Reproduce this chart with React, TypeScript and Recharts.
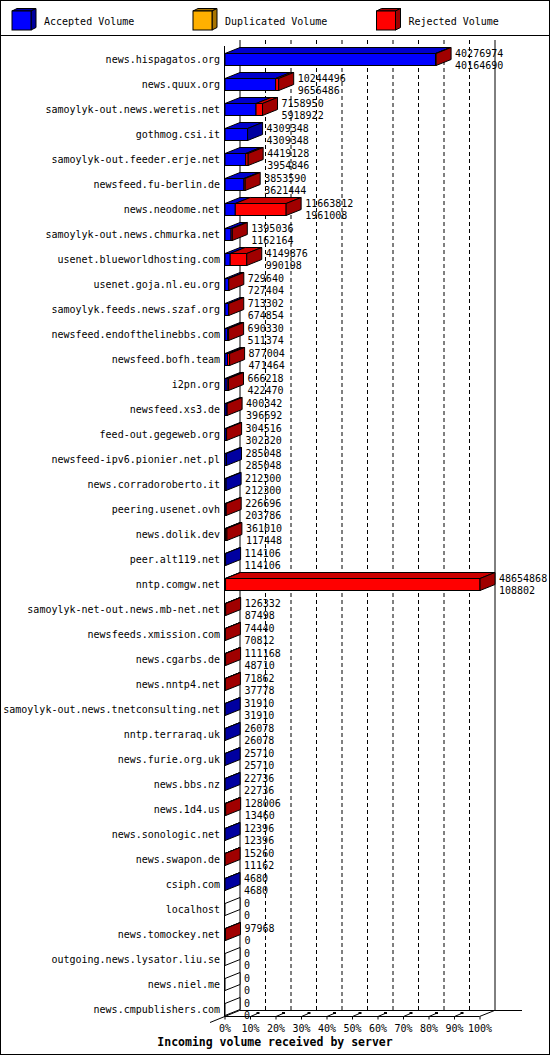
import React from 'react';
import { BarChart, Bar, XAxis, YAxis, CartesianGrid } from 'recharts';

const servers = [
  'news.hispagatos.org',
  'news.quux.org',
  'samoylyk-out.news.weretis.net',
  'gothmog.csi.it',
  'samoylyk-out.feeder.erje.net',
  'newsfeed.fu-berlin.de',
  'news.neodome.net',
  'samoylyk-out.news.chmurka.net',
  'usenet.blueworldhosting.com',
  'usenet.goja.nl.eu.org',
  'samoylyk.feeds.news.szaf.org',
  'newsfeed.endofthelinebbs.com',
  'newsfeed.bofh.team',
  'i2pn.org',
  'newsfeed.xs3.de',
  'feed-out.gegeweb.org',
  'newsfeed-ipv6.pionier.net.pl',
  'news.corradoroberto.it',
  'peering.usenet.ovh',
  'news.dolik.dev',
  'peer.alt119.net',
  'nntp.comgw.net',
  'samoylyk-net-out.news.mb-net.net',
  'newsfeeds.xmission.com',
  'news.cgarbs.de',
  'news.nntp4.net',
  'samoylyk-out.news.tnetconsulting.net',
  'nntp.terraraq.uk',
  'news.furie.org.uk',
  'news.bbs.nz',
  'news.1d4.us',
  'news.sonologic.net',
  'news.swapon.de',
  'csiph.com',
  'localhost',
  'news.tomockey.net',
  'outgoing.news.lysator.liu.se',
  'news.niel.me',
  'news.cmpublishers.com',
];

// first number next to each bar: total offered volume
const totalVolume = [
  40276974, 10244496, 7158950, 4309348, 4419128, 3853590, 11663812, 1395036,
  4149876, 729640, 713302, 690330, 877004, 666218, 400342, 304516, 285048,
  212300, 226696, 361010, 114106, 48654868, 126332, 74440, 111168, 71862,
  31910, 26078, 25710, 22736, 128006, 12396, 15260, 4680, 0, 97968, 0, 0, 0,
];

// second number next to each bar: accepted volume
const acceptedVolume = [
  40164690, 9656486, 5918922, 4309348, 3954846, 3621444, 1961008, 1162164,
  990198, 727404, 674854, 511374, 471464, 422470, 396692, 302320, 285048,
  212300, 203786, 117448, 114106, 108802, 87498, 70812, 48710, 37778,
  31910, 26078, 25710, 22736, 13460, 12396, 11162, 4680, 0, 0, 0, 0, 0,
];

const seriesNames = ['Accepted Volume', 'Duplicated Volume', 'Rejected Volume'];
const percentTicks = [0, 10, 20, 30, 40, 50, 60, 70, 80, 90, 100];
const innerTicks = [10, 20, 30, 40, 50, 60, 70, 80, 90];
const edgeTicks = [0, 100];
const chartTitle = 'Incoming volume received by server';

const W = 550;
const H = 1055;
const PLOT_LEFT = 225;
const PLOT_RIGHT = 480;
const PLOT_TOP = 46.5;
const ROW = 25;
const PLOT_BOTTOM = PLOT_TOP + ROW * servers.length;
const DX = 15;
const DY = 6;
const WALL_TOP = 40;
const FLOOR_BACK = 1010.5;
const FLOOR_FRONT = FLOOR_BACK + DY;
const FONT = '"DejaVu Sans Mono", "Liberation Mono", monospace';

const colors = {
  blue: '#0000ff',
  blueTop: '#0000cc',
  blueSide: '#0000a0',
  yellow: '#ffb000',
  yellowSide: '#a87400',
  red: '#ff0000',
  redTop: '#cc0000',
  redSide: '#a00000',
};

const maxTotal = Math.max(...totalVolume);

const data = servers.map((name, i) => ({
  name,
  total: totalVolume[i],
  acceptedRaw: acceptedVolume[i],
  accepted: (acceptedVolume[i] / maxTotal) * 100,
  rejected: ((totalVolume[i] - acceptedVolume[i]) / maxTotal) * 100,
}));

const pts = (p: number[][]) => p.map(([a, b]) => `${a},${b}`).join(' ');

function Block({ x, y, w, h, front, top, side, showSide }: any) {
  return (
    <g stroke="#000" strokeWidth={1}>
      {w > 0 && <rect x={x} y={y} width={w} height={h} fill={front} />}
      {w > 0 && (
        <polygon points={pts([[x, y], [x + w, y], [x + w + DX, y - DY], [x + DX, y - DY]])} fill={top} />
      )}
      {showSide && (
        <polygon
          points={pts([[x + w, y], [x + w + DX, y - DY], [x + w + DX, y + h - DY], [x + w, y + h]])}
          fill={side}
        />
      )}
    </g>
  );
}

const AcceptedShape = (props: any) => {
  const { x, y, width, height, payload } = props;
  if (payload.total === 0) {
    return (
      <polygon
        points={pts([[x, y], [x + DX, y - DY], [x + DX, y + height - DY], [x, y + height]])}
        fill="#fff"
        stroke="#000"
      />
    );
  }
  if (payload.acceptedRaw === 0) return <g />;
  return (
    <Block
      x={x}
      y={y}
      w={width}
      h={height}
      front={colors.blue}
      top={colors.blueTop}
      side={colors.blueSide}
      showSide={payload.total === payload.acceptedRaw}
    />
  );
};

const RejectedShape = (props: any) => {
  const { x, y, width, height, payload } = props;
  const hasRejected = payload.total > payload.acceptedRaw;
  const tx = x + width + DX + 4;
  const cy = y + height / 2;
  return (
    <g>
      {hasRejected && (
        <Block x={x} y={y} w={width} h={height} front={colors.red} top={colors.redTop} side={colors.redSide} showSide />
      )}
      <text x={tx} y={cy - 6} fontFamily={FONT} fontSize={10} fill="#000" dominantBaseline="central">
        {payload.total}
      </text>
      <text x={tx} y={cy + 5.5} fontFamily={FONT} fontSize={10} fill="#000" dominantBaseline="central">
        {payload.acceptedRaw}
      </text>
    </g>
  );
};

const PercentTick = (props: any) => {
  const { x, payload } = props;
  return (
    <g>
      <line x1={x} y1={FLOOR_FRONT} x2={x} y2={FLOOR_FRONT + 3} stroke="#000" />
      {payload.value > 0 && payload.value < 100 && (
        <g>
          <line x1={x} y1={FLOOR_FRONT} x2={x + 7} y2={FLOOR_FRONT - 3} stroke="#000" />
          <rect x={x + 6} y={FLOOR_FRONT - 4.5} width={3} height={2} fill="#000" />
        </g>
      )}
      <text x={x} y={1028} textAnchor="middle" dominantBaseline="central" fontFamily={FONT} fontSize={10} fill="#000">
        {payload.value}%
      </text>
    </g>
  );
};

const backGrid = (vals: number[]) => ({ xAxis, offset }: any) =>
  vals.map(
    (v) =>
      (xAxis && typeof xAxis.scale === 'function'
        ? xAxis.scale(v)
        : offset.left + (v / 100) * offset.width) + DX
  );

function LegendItem({ x, label, front, side }: any) {
  const y = 11;
  const s = 19;
  return (
    <g>
      <polygon points={pts([[x, y], [x + 5, y - 2.5], [x + s + 5, y - 2.5], [x + s, y]])} fill={side} stroke="#000" />
      <polygon points={pts([[x + s, y], [x + s + 5, y - 2.5], [x + s + 5, y + s - 2.5], [x + s, y + s]])} fill={side} stroke="#000" />
      <rect x={x} y={y} width={s} height={s} fill={front} stroke="#000" />
      <text x={x + 32} y={21} dominantBaseline="central" fontFamily={FONT} fontSize={10} fill="#000">
        {label}
      </text>
    </g>
  );
}

function Frame() {
  const legendX = [12, 193, 376.5];
  const legendFront = [colors.blue, colors.yellow, colors.red];
  const legendSide = [colors.blueSide, colors.yellowSide, colors.redSide];
  return (
    <svg width={W} height={H} style={{ position: 'absolute', left: 0, top: 0, pointerEvents: 'none' }}>
      <rect x={0.5} y={0.5} width={W - 1} height={H - 1} fill="none" stroke="#000" />
      <line x1={0} y1={35.5} x2={W} y2={35.5} stroke="#000" />
      {seriesNames.map((n, i) => (
        <LegendItem key={n} x={legendX[i]} label={n} front={legendFront[i]} side={legendSide[i]} />
      ))}
      {/* front wall edge and floor */}
      <g stroke="#000" fill="none">
        <line x1={PLOT_LEFT - 0.5} y1={WALL_TOP + DY} x2={PLOT_LEFT - 0.5} y2={FLOOR_FRONT} />
        <line x1={PLOT_LEFT - 0.5} y1={FLOOR_FRONT} x2={PLOT_RIGHT - 0.5} y2={FLOOR_FRONT} />
        <line x1={PLOT_RIGHT - 0.5} y1={FLOOR_FRONT} x2={PLOT_RIGHT + DX - 0.5} y2={FLOOR_BACK} />
        <line x1={PLOT_LEFT + DX - 0.5} y1={FLOOR_BACK} x2={522} y2={FLOOR_BACK} />
        <line x1={210} y1={FLOOR_FRONT + 6} x2={PLOT_LEFT + DX - 0.5} y2={FLOOR_BACK} />
      </g>
      <text
        x={W / 2}
        y={1042}
        textAnchor="middle"
        dominantBaseline="central"
        fontFamily={FONT}
        fontSize={11.5}
        fontWeight="bold"
        fill="#000"
      >
        {chartTitle}
      </text>
    </svg>
  );
}

export default function App() {
  return (
    <div style={{ position: 'relative', width: W, height: H, background: '#fff' }}>
      <style>{'body{margin:0;background:#fff}'}</style>
      <BarChart
        width={W}
        height={H}
        data={data}
        layout="vertical"
        barSize={12}
        margin={{ top: PLOT_TOP, right: W - PLOT_RIGHT, bottom: 0, left: 0 }}
      >
        <CartesianGrid
          horizontal={false}
          stroke="#000"
          strokeDasharray="4 3"
          y={WALL_TOP}
          height={FLOOR_BACK - WALL_TOP}
          verticalCoordinatesGenerator={backGrid(innerTicks)}
        />
        <CartesianGrid
          horizontal={false}
          stroke="#000"
          y={WALL_TOP}
          height={FLOOR_BACK - WALL_TOP}
          verticalCoordinatesGenerator={backGrid(edgeTicks)}
        />
        <XAxis
          type="number"
          domain={[0, 100]}
          ticks={percentTicks}
          interval={0}
          height={H - PLOT_BOTTOM}
          axisLine={false}
          tickLine={false}
          tick={<PercentTick />}
        />
        <YAxis
          type="category"
          dataKey="name"
          width={PLOT_LEFT}
          interval={0}
          axisLine={false}
          tickLine={false}
          tickSize={0}
          tickMargin={5}
          tick={{ fill: '#000', fontSize: 10, fontFamily: FONT }}
        />
        <Bar dataKey="accepted" stackId="v" fill={colors.blue} shape={<AcceptedShape />} isAnimationActive={false} />
        <Bar dataKey="rejected" stackId="v" fill={colors.red} shape={<RejectedShape />} isAnimationActive={false} />
      </BarChart>
      <Frame />
    </div>
  );
}
